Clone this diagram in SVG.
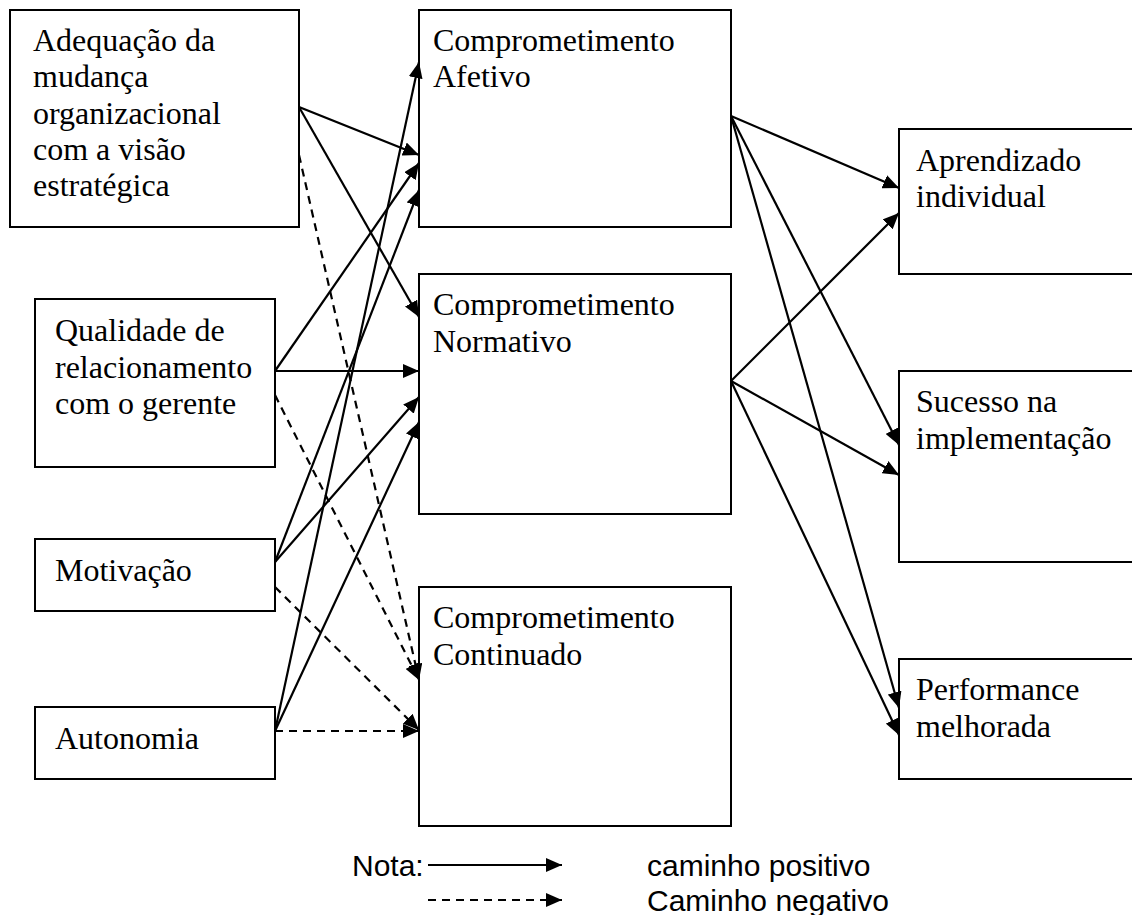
<svg xmlns="http://www.w3.org/2000/svg" width="1132" height="915" viewBox="0 0 1132 915">
<style>
.box{fill:#fff;stroke:#000;stroke-width:2}
.t{font-family:"Liberation Serif","Times New Roman",serif;font-size:32px;fill:#000}
.s{font-family:"Liberation Sans",Arial,sans-serif;font-size:30px;fill:#000}
.c{stroke:#000;stroke-width:2.2;fill:none;marker-end:url(#ah)}
.d{stroke-dasharray:8 6}
</style>
<defs>
<marker id="ah" markerUnits="userSpaceOnUse" markerWidth="17" markerHeight="14" refX="16" refY="7" orient="auto">
<path d="M0,0 L16,7 L0,14 z" fill="#000"/>
</marker>
</defs>
<rect width="1132" height="915" fill="#fff"/>
<g id="n-adequacao"><rect class="box" x="10" y="10" width="289" height="217"/>
<text class="t"><tspan x="33" y="51">Adequação da</tspan><tspan x="33" y="87">mudança</tspan><tspan x="33" y="124">organizacional</tspan><tspan x="33" y="160">com a visão</tspan><tspan x="33" y="196">estratégica</tspan></text></g>
<g id="n-qualidade"><rect class="box" x="35" y="299" width="240" height="168"/>
<text class="t"><tspan x="55" y="341">Qualidade de</tspan><tspan x="55" y="378">relacionamento</tspan><tspan x="55" y="414">com o gerente</tspan></text></g>
<g id="n-motivacao"><rect class="box" x="35" y="539" width="240" height="72"/>
<text class="t" x="55" y="581">Motivação</text></g>
<g id="n-autonomia"><rect class="box" x="35" y="707" width="240" height="72"/>
<text class="t" x="55" y="749">Autonomia</text></g>
<g id="n-afetivo"><rect class="box" x="419" y="10" width="312" height="217"/>
<text class="t"><tspan x="433" y="51">Comprometimento</tspan><tspan x="433" y="87">Afetivo</tspan></text></g>
<g id="n-normativo"><rect class="box" x="419" y="274" width="312" height="240"/>
<text class="t"><tspan x="433" y="315">Comprometimento</tspan><tspan x="433" y="352">Normativo</tspan></text></g>
<g id="n-continuado"><rect class="box" x="419" y="587" width="312" height="239"/>
<text class="t"><tspan x="433" y="628">Comprometimento</tspan><tspan x="433" y="665">Continuado</tspan></text></g>
<g id="n-aprendizado"><rect class="box" x="899" y="129" width="240" height="145"/>
<text class="t"><tspan x="916" y="171">Aprendizado</tspan><tspan x="916" y="207">individual</tspan></text></g>
<g id="n-sucesso"><rect class="box" x="899" y="371" width="240" height="191"/>
<text class="t"><tspan x="916" y="412">Sucesso na</tspan><tspan x="916" y="449">implementação</tspan></text></g>
<g id="n-performance"><rect class="box" x="899" y="659" width="240" height="120"/>
<text class="t"><tspan x="916" y="700">Performance</tspan><tspan x="916" y="737">melhorada</tspan></text></g>
<g id="connectors">
<line class="c" x1="299" y1="107" x2="419" y2="155"/>
<line class="c" x1="299" y1="107" x2="419" y2="317"/>
<line class="c d" x1="299" y1="155" x2="419" y2="680"/>
<line class="c" x1="275" y1="371" x2="419" y2="163"/>
<line class="c" x1="275" y1="371" x2="419" y2="371"/>
<line class="c d" x1="275" y1="395" x2="419" y2="680"/>
<line class="c" x1="275" y1="562" x2="419" y2="190"/>
<line class="c" x1="275" y1="562" x2="419" y2="397"/>
<line class="c d" x1="275" y1="587" x2="419" y2="730"/>
<line class="c" x1="275" y1="731" x2="419" y2="62"/>
<line class="c" x1="275" y1="731" x2="419" y2="422"/>
<line class="c d" x1="275" y1="731" x2="419" y2="731"/>
<line class="c" x1="731" y1="116" x2="899" y2="188"/>
<line class="c" x1="731" y1="116" x2="899" y2="445"/>
<line class="c" x1="731" y1="116" x2="899" y2="708"/>
<line class="c" x1="731" y1="381" x2="899" y2="213"/>
<line class="c" x1="731" y1="381" x2="899" y2="475"/>
<line class="c" x1="731" y1="381" x2="899" y2="735"/>
</g>
<g id="legend">
<text class="s" x="352" y="876">Nota:</text>
<line class="c" x1="428" y1="865" x2="562" y2="865"/>
<text class="s" x="647" y="876">caminho positivo</text>
<line class="c d" x1="428" y1="900" x2="562" y2="900"/>
<text class="s" x="647" y="911">Caminho negativo</text>
</g>
</svg>
